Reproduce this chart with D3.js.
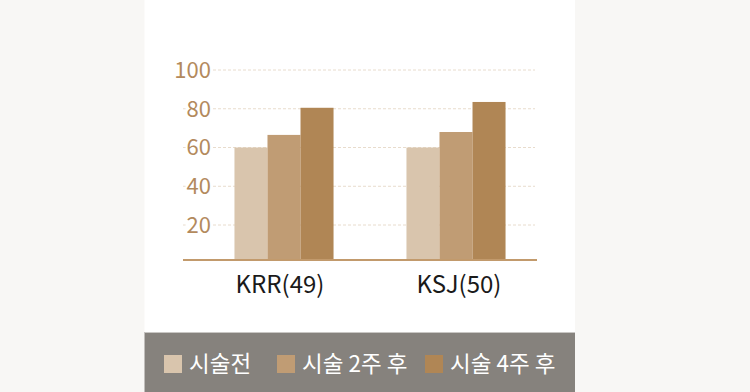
<html>
	<head>
		<meta content="text/html;charset=utf-8" http-equiv="Content-Type">
		<script src="https://d3js.org/d3.v7.min.js"></script>
		<style>
		body { margin: 0; background: #f8f7f5; }
		text { font-family: "Noto Sans CJK KR", "Noto Sans", sans-serif; }
		</style>
	</head>
	<body>
		<svg id="page"></svg>
		<script>

		// data
		var categories = ["KRR(49)", "KSJ(50)"];
		var seriesNames = ["시술전", "시술 2주 후", "시술 4주 후"];
		var before = [60, 60];
		var week2 = [66.5, 68];
		var week4 = [80.5, 83.5];
		var yTicks = [20, 40, 60, 80, 100];

		var seriesValues = [before, week2, week4];
		var colors = ["#d9c5ad", "#c09c74", "#b08655"];

		var svg = d3.select("#page").attr("width", 750).attr("height", 392);

		// page background + white panel
		svg.append("rect").attr("x", 0).attr("y", 0).attr("width", 750).attr("height", 392).attr("fill", "#f8f7f5");
		svg.append("rect").attr("x", 144.5).attr("y", 0).attr("width", 430.5).attr("height", 392).attr("fill", "#ffffff");

		// scales
		var y = d3.scaleLinear().domain([0, 100]).range([263.75, 70]);
		var x = d3.scaleBand().domain(categories).range([198, 542]).paddingInner(0.424).paddingOuter(0.212);
		var xs = d3.scaleBand().domain(seriesNames).range([0, x.bandwidth()]);
		var baseY = 260;

		// gridlines
		svg.append("g").selectAll("line").data(yTicks).enter().append("line")
			.attr("x1", 183).attr("x2", 535)
			.attr("y1", function(d){ return y(d); })
			.attr("y2", function(d){ return y(d); })
			.attr("stroke", "#e8dccd")
			.attr("stroke-width", 1)
			.attr("stroke-dasharray", "3,2");

		// y tick labels with white background
		var yl = svg.append("g");
		yTicks.forEach(function(t){
			var bg = yl.append("rect").attr("fill", "#ffffff");
			var tx = yl.append("text")
				.attr("x", 211)
				.attr("y", y(t))
				.attr("dy", "0.36em")
				.style("text-anchor", "end")
				.style("font-size", "22px")
				.attr("fill", "#b38a5d")
				.text(t);
			var b = tx.node().getBBox();
			bg.attr("x", b.x - 1).attr("y", b.y).attr("width", b.width + 2).attr("height", b.height);
		});

		// bars
		seriesValues.forEach(function(vals, si){
			svg.append("g").selectAll("rect").data(vals).enter().append("rect")
				.attr("x", function(d, i){ return x(categories[i]) + xs(seriesNames[si]); })
				.attr("y", function(d){ return y(d); })
				.attr("width", xs.bandwidth())
				.attr("height", function(d){ return baseY - y(d); })
				.attr("fill", colors[si]);
		});

		// baseline
		svg.append("line")
			.attr("x1", 183).attr("x2", 537)
			.attr("y1", baseY).attr("y2", baseY)
			.attr("stroke", "#c29a6c")
			.attr("stroke-width", 2);

		// x axis labels
		var xAxis = d3.axisBottom(x).tickSize(0).tickPadding(0);
		var gx = svg.append("g").attr("transform", "translate(0," + 273 + ")").call(xAxis);
		gx.select(".domain").remove();
		gx.selectAll("text")
			.attr("dy", "0.85em")
			.attr("dx", function(d, i){ return i === 0 ? -4 : 3; })
			.style("font-size", "24px")
			.style("font-family", "'Noto Sans CJK KR', sans-serif")
			.attr("fill", "#1a1a1a");

		// legend band
		svg.append("rect").attr("x", 144.5).attr("y", 332).attr("width", 430.5).attr("height", 60).attr("fill", "#86827d");
		svg.append("line").attr("x1", 144.5).attr("x2", 575).attr("y1", 332.5).attr("y2", 332.5).attr("stroke", "#c9c7c4");

		var legendX = [164, 277, 425];
		seriesNames.forEach(function(name, i){
			svg.append("rect")
				.attr("x", legendX[i]).attr("y", 355)
				.attr("width", 18).attr("height", 18)
				.attr("fill", colors[i]);
			svg.append("text")
				.attr("x", legendX[i] + 25).attr("y", 364)
				.attr("dy", "0.36em")
				.style("font-size", "22.5px")
				.attr("fill", "#ffffff")
				.text(name);
		});

		</script>
	</body>
</html>
